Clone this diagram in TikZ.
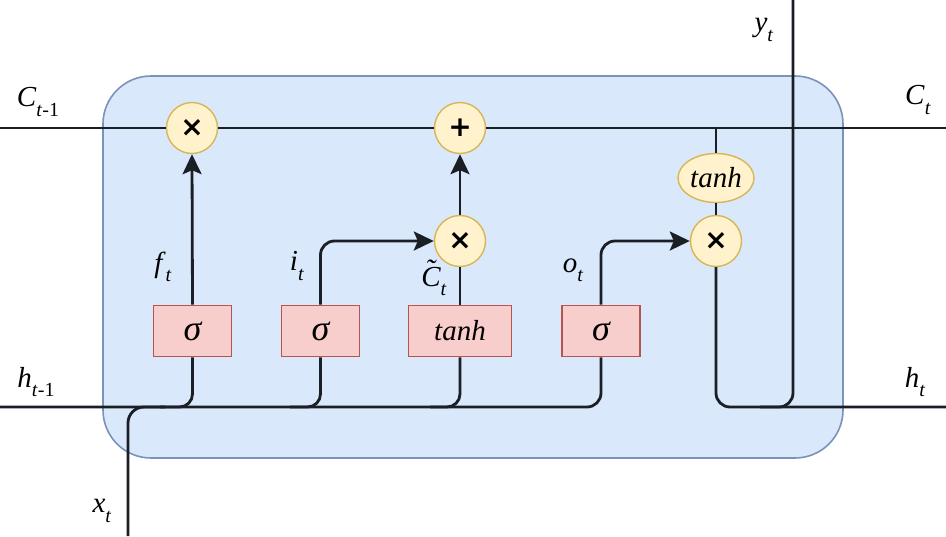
\documentclass[tikz,border=0pt]{standalone}
\usepackage{fontspec}
\setmainfont{Liberation Serif}
\newfontfamily\symfont{DejaVu Sans}
\usetikzlibrary{shapes.geometric,arrows.meta}
\definecolor{cellfill}{HTML}{DAE8FC}
\definecolor{celldraw}{HTML}{7A93B8}
\definecolor{opfill}{HTML}{FFF2CC}
\definecolor{opdraw}{HTML}{D6B656}
\definecolor{gatefill}{HTML}{F8CECC}
\definecolor{gatedraw}{HTML}{B85450}
\definecolor{wire}{HTML}{1A1F26}
\newcommand{\lab}[2]{\textit{#1}\raisebox{-0.32em}{\fontsize{20}{20}\selectfont #2}}
\newcommand{\tildeC}{\textit{C}\hspace{-0.36em}\makebox[0pt]{\raisebox{0.22em}{\textit{˜}}}\hspace{0.36em}}
\tikzset{
  wireline/.style={draw=wire, line width=2.8pt},
  arr/.style={wireline, -{Stealth[length=20pt,width=19pt,inset=4pt]}},
  opnode/.style={circle, draw=opdraw, fill=opfill, line width=1.4pt, minimum size=51pt, inner sep=0pt, font=\symfont\bfseries\fontsize{28}{28}\selectfont},
  tanhnode/.style={ellipse, draw=opdraw, fill=opfill, line width=1.4pt, minimum width=76pt, minimum height=49pt, inner sep=0pt, font=\itshape\fontsize{29}{29}\selectfont},
  gatebox/.style={rectangle, draw=gatedraw, fill=gatefill, line width=1.6pt, minimum height=51pt, inner sep=0pt, font=\itshape\fontsize{29}{29}\selectfont},
  lbl/.style={inner sep=0pt, font=\fontsize{29}{29}\selectfont},
  sig/.style={font=\itshape\fontsize{36}{36}\selectfont},
}
\begin{document}
\begin{tikzpicture}[x=1pt,y=-1pt]
\useasboundingbox (0,0) rectangle (946,536);
\fill[white] (0,0) rectangle (946,536);
\draw[fill=cellfill, draw=celldraw, line width=1.6pt, rounded corners=48pt] (103,76) rectangle (843,458);

% operators
\node[opnode] (m1) at (192,128) {×};
\node[opnode] (p1) at (460,128) {+};
\node[opnode] (m2) at (460,241) {×};
\node[opnode] (m3) at (716,241) {×};
\node[tanhnode] (th) at (716,178) {tanh};

% gates
\node[gatebox, sig, minimum width=78pt] (g1) at (192.5,331) {σ};
\node[gatebox, sig, minimum width=78pt] (g2) at (320.5,331) {σ};
\node[gatebox, minimum width=103pt] (g3) at (460,331) {tanh};
\node[gatebox, sig, minimum width=78pt] (g4) at (601,331) {σ};

% coordinates
\coordinate (cin) at (0,128);
\coordinate (cout) at (946,128);
\coordinate (cbr) at (716,128);
\coordinate (hin) at (0,407);
\coordinate (hout) at (946,407);
\coordinate (xin) at (128,536);
\coordinate (b0) at (165,407);
\coordinate (b1) at (160,407);
\coordinate (b2) at (290,407);
\coordinate (b3) at (430,407);
\coordinate (yb) at (760,407);
\coordinate (yout) at (793,0);

% cell state
\draw[wireline] (cin) -- (m1) -- (p1) -- (cout);
\draw[wireline] (cbr) -- (th.north);
\draw[wireline] (th.south) -- (m3.north);

% hidden / input
\draw[wireline, rounded corners=14pt] (hin) -| (g4.south);
\draw[wireline, rounded corners=16pt] (xin) |- (b0);
\draw[wireline, rounded corners=13pt] (b1) -| (g1.south);
\draw[wireline, rounded corners=13pt] (b2) -| (g2.south);
\draw[wireline, rounded corners=13pt] (b3) -| (g3.south);

% gate outputs
\draw[arr] (g1.north) -- (m1.south);
\draw[arr, rounded corners=14pt] (g2.north) |- (m2.west);
\draw[wireline] (g3.north) -- (m2.south);
\draw[arr] (m2.north) -- (p1.south);
\draw[arr, rounded corners=14pt] (g4.north) |- (m3.west);

% output
\draw[wireline, rounded corners=14pt] (m3.south) |- (hout);
\draw[wireline, rounded corners=14pt] (yb) -| (yout);

% labels
\node[lbl] (lc0) at (38,102) {\lab{C}{\textit{t}-1}};
\node[lbl] (lc1) at (918,100) {\lab{C}{\textit{t}}};
\node[lbl] (lh0) at (36,382) {\lab{h}{\textit{t}-1}};
\node[lbl] (lh1) at (915,382) {\lab{h}{\textit{t}}};
\node[lbl] (ly) at (764,30) {\lab{y}{\textit{t}}};
\node[lbl] (lx) at (102,511) {\lab{x}{\textit{t}}};
\node[lbl] (lf) at (163,267) {\lab{f}{\textit{t}}};
\node[lbl] (li) at (297,266) {\lab{i}{\textit{t}}};
\node[lbl] (lct) at (434,278) {\lab{\tildeC}{\textit{t}}};
\node[lbl] (lo) at (573,270) {\lab{o}{\textit{t}}};
\end{tikzpicture}
\end{document}
